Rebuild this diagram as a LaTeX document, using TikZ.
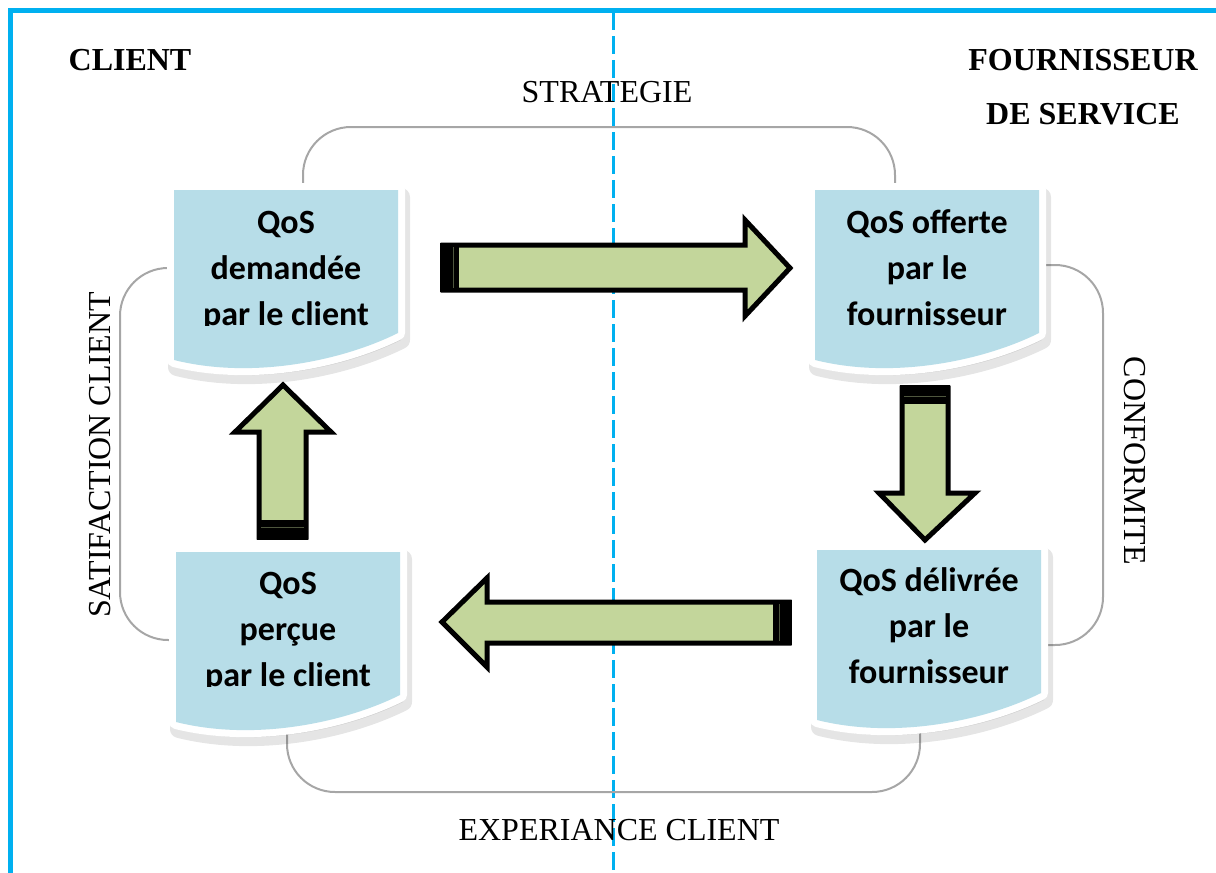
\documentclass[tikz,border=0pt]{standalone}
\usepackage{fontspec}
\setmainfont{Liberation Serif}
\newfontfamily\boxfont{Carlito}
\definecolor{boxblue}{HTML}{B7DDE8}
\definecolor{arrgreen}{HTML}{C3D69B}
\definecolor{frameblue}{HTML}{00B0F0}
\definecolor{cyclegray}{HTML}{A6A6A6}
\newcommand\docpath{(0,0) -- (224,0) -- (224,143) .. controls (170,170) and (80,190) .. (0,170) -- cycle}
\newcommand\docbox[2]{%
  \begin{scope}[shift={(#1,#2)}]
    \fill[black,opacity=0.10,line width=9pt,line join=round] [shift={(3,7)}] \docpath;
    \draw[black,opacity=0.10,line width=9pt,line join=round] [shift={(3,7)}] \docpath;
    \filldraw[white,line width=7pt,line join=round] \docpath;
    \fill[boxblue] \docpath;
  \end{scope}}
\begin{document}
\begin{tikzpicture}[x=0.5pt,y=-0.5pt,
  qt/.style={font=\boxfont\bfseries\fontsize{17}{20}\selectfont, inner sep=0pt, anchor=base},
  lbl/.style={font=\fontsize{16}{19}\selectfont, inner sep=0pt},
  hdr/.style={font=\bfseries\fontsize{16}{19}\selectfont, inner sep=0pt},
  cyc/.style={draw=cyclegray, line width=1pt, rounded corners=24pt},
  blockarrow/.style={draw=black, fill=arrgreen, line width=2.5pt, line join=miter},
  band/.style={fill=black}]
\useasboundingbox (0,0) rectangle (1216,873);
% frame
\draw[frameblue, line width=2.5pt] (10.5,873) -- (10.5,10.5) -- (1216,10.5);
\draw[frameblue, line width=1.5pt, dash pattern=on 9pt off 3pt] (613,12) -- (613,873);
% cycle lines
\draw[cyc] (303,190) -- (303,127) -- (895,127) -- (895,190);
\draw[cyc] (1040,265) -- (1103,265) -- (1103,645) -- (1040,645);
\draw[cyc] (287,720) -- (287,792) -- (920,792) -- (920,720);
\draw[cyc] (180,268) -- (120,268) -- (120,640) -- (180,640);
% boxes
\docbox{174}{190}
\docbox{815}{190}
\docbox{176}{552}
\docbox{817}{550}
% box texts
\begin{scope}
\clip (174,190) rectangle (398,325);
\node[qt] (b1a) at (286,233) {QoS};
\node[qt] (b1b) at (286,279) {demandée};
\node[qt] (b1c) at (286,325) {par le client};
\end{scope}
\node[qt] (b2a) at (927,233) {QoS offerte};
\node[qt] (b2b) at (927,279) {par le};
\node[qt] (b2c) at (927,325) {fournisseur};
\begin{scope}
\clip (176,552) rectangle (400,686);
\node[qt] (b3a) at (288,594) {QoS};
\node[qt] (b3b) at (288,640) {perçue};
\node[qt] (b3c) at (288,686) {par le client};
\end{scope}
\node[qt] (b4a) at (929,591) {QoS délivrée};
\node[qt] (b4b) at (929,637) {par le};
\node[qt] (b4c) at (929,683) {fournisseur};
% block arrows
\draw[blockarrow] (443,245) -- (745,245) -- (745,220) -- (790,268) -- (745,316) -- (745,290) -- (443,290) -- cycle;
\fill[band] (440,243) rectangle (459,292);
\draw[arrgreen!40!black, line width=0.4pt] (453,247) -- (453,288);
\draw[blockarrow] (902,388) -- (948,388) -- (948,493) -- (975,493) -- (925,540) -- (879,493) -- (902,493) -- cycle;
\fill[band] (900,385) rectangle (950,404);
\draw[arrgreen!40!black, line width=0.4pt] (904,396) -- (946,396);
\draw[blockarrow] (259,537) -- (259,432) -- (235,432) -- (283,385) -- (331,432) -- (306,432) -- (306,537) -- cycle;
\fill[band] (257,520) rectangle (308,540);
\draw[arrgreen!40!black, line width=0.4pt] (261,527) -- (304,527);
\draw[blockarrow] (789,602) -- (487,602) -- (487,578) -- (442,622) -- (487,667) -- (487,643) -- (789,643) -- cycle;
\fill[band] (773,600) rectangle (792,645);
\draw[arrgreen!40!black, line width=0.4pt] (779,604) -- (779,641);
% labels
\node[lbl] (strat) at (607,92) {STRATEGIE};
\node[lbl] (exp) at (619,830) {EXPERIANCE CLIENT};
\node[lbl, rotate=90] (sat) at (100,455) {SATIFACTION CLIENT};
\node[lbl, rotate=-90] (conf) at (1135,461) {CONFORMITE};
\node[hdr] (cli) at (130,60) {CLIENT};
\node[hdr] (four) at (1083,60) {FOURNISSEUR};
\node[hdr] (serv) at (1083,114) {DE SERVICE};
\end{tikzpicture}
\end{document}
